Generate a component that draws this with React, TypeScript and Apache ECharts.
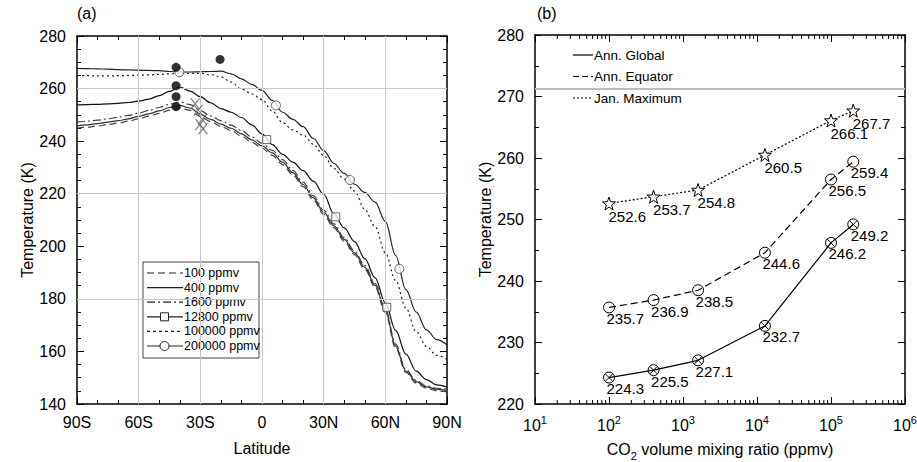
import React, { useEffect, useRef } from 'react';
import * as echarts from 'echarts';

const FONT = "'Liberation Sans', Arial, Helvetica, sans-serif";

// ---------- Panel (a) data ----------
const latitudes = [-90, -85, -80, -75, -70, -65, -60, -55, -50, -45, -40, -35, -30, -25, -20, -15, -10, -5, 0, 5, 10, 15, 20, 25, 30, 35, 40, 45, 50, 55, 60, 65, 70, 75, 80, 85, 90];
const t100 = [244.9, 245.3, 245.8, 246.3, 246.9, 247.6, 248.5, 249.5, 250.6, 251.8, 252.7, 251.7, 249.4, 247.4, 245.6, 244.0, 241.9, 239.6, 237.3, 234.6, 231.1, 227.2, 222.7, 217.6, 212.1, 207.0, 201.9, 196.8, 191.3, 184.5, 174.8, 161.3, 152.0, 148.0, 146.0, 145.0, 144.6];
const t400 = [245.8, 246.2, 246.7, 247.2, 247.8, 248.5, 249.4, 250.4, 251.5, 252.8, 253.6, 252.6, 250.3, 248.3, 246.5, 244.9, 242.8, 240.5, 238.2, 235.5, 232.0, 228.0, 223.5, 218.4, 212.9, 207.8, 202.6, 197.5, 192.0, 185.2, 175.5, 162.0, 152.5, 148.5, 146.5, 145.6, 145.2];
const t1600 = [247.2, 247.6, 248.0, 248.5, 249.1, 249.8, 250.7, 251.7, 252.8, 254.0, 254.9, 253.9, 251.6, 249.6, 247.8, 246.1, 244.0, 241.6, 239.2, 236.5, 233.0, 228.9, 224.4, 219.2, 213.7, 208.5, 203.3, 198.2, 192.7, 185.9, 176.3, 162.8, 153.1, 149.0, 146.9, 146.0, 145.6];
const t12800 = [253.8, 253.9, 254.0, 254.2, 254.4, 254.7, 255.2, 256.0, 257.3, 258.9, 260.6, 259.0, 256.9, 254.6, 252.4, 251.0, 249.0, 246.2, 242.8, 238.7, 235.0, 232.0, 228.8, 224.8, 219.8, 212.3, 207.0, 201.8, 195.3, 188.0, 178.5, 168.0, 159.0, 152.5, 149.3, 147.3, 146.5];
const t100000 = [264.9, 264.9, 264.8, 264.8, 264.9, 265.0, 265.1, 265.2, 265.4, 265.6, 265.8, 265.8, 265.8, 265.3, 264.5, 262.5, 259.8, 258.0, 255.8, 251.5, 247.0, 244.3, 242.3, 238.8, 234.6, 229.6, 225.5, 221.0, 214.0, 207.5, 197.5, 187.0, 176.5, 167.5, 161.9, 158.5, 157.0];
const t200000 = [267.7, 267.6, 267.5, 267.4, 267.2, 267.1, 267.0, 266.9, 266.8, 266.5, 266.3, 266.3, 266.4, 266.5, 266.6, 265.6, 263.7, 261.6, 259.3, 255.5, 251.0, 248.3, 245.5, 241.0, 236.4, 231.5, 227.7, 223.6, 220.5, 216.8, 209.5, 196.5, 183.5, 175.0, 168.2, 164.5, 162.5];

const squareLat = [2.3, 35.9, 60.7];
const squareT = [240.6, 211.2, 176.8];
const circleLat = [-40.2, 6.8, 42.8, 66.8];
const circleT = [266.2, 253.6, 225.2, 191.4];
const obsLat = [-41.8, -41.8, -41.8, -41.8, -20.4];
const obsT = [268.1, 261.1, 256.9, 253.1, 271.1];
const crossLat = [-32.5, -31.0, -29.0, -30.2, -28.7];
const crossT = [254.2, 251.8, 248.3, 246.3, 244.7];

const legendANames = ['100 ppmv', '400 ppmv', '1600 ppmv', '12800 ppmv', '100000 ppmv', '200000 ppmv'];

// ---------- Panel (b) data ----------
const co2 = [100, 400, 1600, 12800, 100000, 200000];
const annGlobal = [224.3, 225.5, 227.1, 232.7, 246.2, 249.2];
const annEquator = [235.7, 236.9, 238.5, 244.6, 256.5, 259.4];
const janMax = [252.6, 253.7, 254.8, 260.5, 266.1, 267.7];
const refLineT = 271.3;
const legendBNames = ['Ann. Global', 'Ann. Equator', 'Jan. Maximum'];
const logMantissas = [2, 3, 4, 5, 6, 7, 8, 9];
const logDecades = [10, 100, 1000, 10000, 100000];

const latFmt = (v: number) => (v < 0 ? `${-v}S` : v > 0 ? `${v}N` : '0');

const pairs = (xs: number[], ys: number[]) => xs.map((x, i) => [x, ys[i]]);

const CIRCLE_X = 'path://M10,5A5,5,0,1,1,0,5A5,5,0,1,1,10,5Z M1.6,1.6L8.4,8.4 M8.4,1.6L1.6,8.4';
const CIRCLE_O = 'path://M10,5A5,5,0,1,1,0,5A5,5,0,1,1,10,5Z';
const STAR = 'path://M5,0L6.2,3.5L10,3.6L7,5.9L8.1,9.6L5,7.4L1.9,9.6L3,5.9L0,3.6L3.8,3.5Z';
const XMARK = 'path://M0,0L10,12M10,0L0,12';

const txt = { fontFamily: FONT, color: '#000' };
const axLine = { show: true, onZero: false, lineStyle: { color: '#000', width: 1.5 } };
const tick = { show: true, inside: true, length: 7, lineStyle: { color: '#000', width: 1 } };
const minor = (n: number) => ({ show: true, splitNumber: n, length: 4, lineStyle: { color: '#000', width: 1 } });

function buildOption() {
  const lineA = (name: string, data: number[], dash: any, color: string, z = 3) => ({
    name,
    type: 'line',
    xAxisIndex: 0,
    yAxisIndex: 0,
    data: pairs(latitudes, data),
    showSymbol: false,
    symbol: 'none',
    smooth: 0.35,
    smoothMonotone: 'x',
    lineStyle: { color, width: 1.2, type: dash },
    z,
  });

  const minorTickData: number[][] = [];
  logDecades.forEach((d) => logMantissas.forEach((m) => minorTickData.push([m * d, 250])));

  const lineB = (name: string, data: number[], dash: any, symbol: string, size: number, fill: string) => ({
    name,
    type: 'line',
    xAxisIndex: 2,
    yAxisIndex: 2,
    data: pairs(co2, data),
    symbol,
    symbolSize: size,
    showSymbol: true,
    lineStyle: { color: '#000', width: 1.2, type: dash },
    itemStyle: { color: fill, borderColor: '#000', borderWidth: 1 },
    label: {
      show: true,
      position: [size / 2, size / 2 + 6],
      align: 'left',
      verticalAlign: 'top',
      fontSize: 15,
      ...txt,
      formatter: (p: any) => p.value[1].toFixed(1),
    },
    labelLayout: { hideOverlap: false },
    z: 4,
  });

  const legendAStyles = [
    { dash: [7, 4], marker: '' },
    { dash: null, marker: '' },
    { dash: [8, 3, 2, 3], marker: '' },
    { dash: null, marker: 'rect' },
    { dash: [3, 3], marker: '' },
    { dash: null, marker: 'circle' },
  ];
  const legendAChildren: any[] = [
    { type: 'rect', shape: { x: 0, y: 0, width: 116, height: 96 }, style: { fill: '#fff', stroke: '#444', lineWidth: 1 } },
  ];
  legendANames.forEach((n, i) => {
    const y = 11 + i * 14.6;
    const st = legendAStyles[i];
    legendAChildren.push({
      type: 'line',
      shape: { x1: 4, y1: y, x2: 40, y2: y },
      style: { stroke: '#222', lineWidth: 1.2, lineDash: st.dash || undefined },
    });
    if (st.marker === 'rect') {
      legendAChildren.push({ type: 'rect', shape: { x: 17.5, y: y - 4, width: 8, height: 8 }, style: { fill: '#fff', stroke: '#222', lineWidth: 1 } });
    } else if (st.marker === 'circle') {
      legendAChildren.push({ type: 'circle', shape: { cx: 21.5, cy: y, r: 4.5 }, style: { fill: '#fff', stroke: '#222', lineWidth: 1 } });
    }
    legendAChildren.push({
      type: 'text',
      style: { text: n, x: 41, y, verticalAlign: 'middle', align: 'left', fontSize: 12.5, fontFamily: FONT, fill: '#000' },
    });
  });

  const legendBDash = [null, [6, 3], [2, 2]];
  const legendBChildren: any[] = [];
  legendBNames.forEach((n, i) => {
    const y = i * 21.5;
    legendBChildren.push({
      type: 'line',
      shape: { x1: 0, y1: y, x2: 20, y2: y },
      style: { stroke: '#000', lineWidth: 1.2, lineDash: legendBDash[i] || undefined },
    });
    legendBChildren.push({
      type: 'text',
      style: { text: n, x: 21, y, verticalAlign: 'middle', align: 'left', fontSize: 13.5, fontFamily: FONT, fill: '#000' },
    });
  });

  return {
    animation: false,
    backgroundColor: '#fff',
    grid: [
      { left: 77, top: 36, width: 370, height: 368, outerBoundsMode: 'none', containLabel: false },
      { left: 535, top: 35, width: 370, height: 369, outerBoundsMode: 'none', containLabel: false },
    ],
    xAxis: [
      {
        gridIndex: 0, type: 'value', min: -90, max: 90, interval: 30, position: 'bottom',
        axisLine: axLine, axisTick: tick, minorTick: minor(3), splitLine: { show: false },
        axisLabel: { formatter: latFmt, fontSize: 16, margin: 10, ...txt, showMinLabel: true, showMaxLabel: true },
        name: 'Latitude', nameLocation: 'middle', nameGap: 36, nameTextStyle: { fontSize: 16, ...txt },
      },
      {
        gridIndex: 0, type: 'value', min: -90, max: 90, interval: 30, position: 'top',
        axisLine: axLine, axisTick: tick, minorTick: minor(3), splitLine: { show: false }, axisLabel: { show: false },
      },
      {
        gridIndex: 1, type: 'log', logBase: 10, min: 10, max: 1000000, splitNumber: 5, position: 'bottom',
        axisLine: axLine, axisTick: tick, splitLine: { show: false },
        axisLabel: {
          margin: 10, showMinLabel: true, showMaxLabel: true, ...txt,
          formatter: (v: number) => `{b|10}{s|${Math.round(Math.log10(v))}}`,
          rich: {
            b: { fontSize: 16, fontFamily: FONT, color: '#000', verticalAlign: 'bottom' },
            s: { fontSize: 11, fontFamily: FONT, color: '#000', verticalAlign: 'bottom', padding: [0, 0, 8, 0] },
          },
        },
        name: '{n|CO}{sub|2}{n| volume mixing ratio (ppmv)}', nameLocation: 'middle', nameGap: 37,
        nameTextStyle: {
          ...txt, fontSize: 16,
          rich: {
            n: { fontSize: 16, fontFamily: FONT, color: '#000', verticalAlign: 'top' },
            sub: { fontSize: 11, fontFamily: FONT, color: '#000', verticalAlign: 'top', padding: [9, 0, 0, 0] },
          },
        },
      },
      {
        gridIndex: 1, type: 'log', logBase: 10, min: 10, max: 1000000, splitNumber: 5, position: 'top',
        axisLine: axLine, axisTick: tick, splitLine: { show: false }, axisLabel: { show: false },
      },
    ],
    yAxis: [
      {
        gridIndex: 0, type: 'value', min: 140, max: 280, interval: 20, position: 'left',
        axisLine: axLine, axisTick: tick, minorTick: minor(4), splitLine: { show: false },
        axisLabel: { fontSize: 16, margin: 11, ...txt, showMinLabel: true, showMaxLabel: true },
        name: 'Temperature (K)', nameLocation: 'middle', nameGap: 40, nameTextStyle: { fontSize: 16, ...txt },
      },
      {
        gridIndex: 0, type: 'value', min: 140, max: 280, interval: 20, position: 'right',
        axisLine: axLine, axisTick: tick, minorTick: minor(4), splitLine: { show: false }, axisLabel: { show: false },
      },
      {
        gridIndex: 1, type: 'value', min: 220, max: 280, interval: 10, position: 'left',
        axisLine: axLine, axisTick: tick, minorTick: minor(2), splitLine: { show: false },
        axisLabel: { fontSize: 16, margin: 11, ...txt, showMinLabel: true, showMaxLabel: true },
        name: 'Temperature (K)', nameLocation: 'middle', nameGap: 30, nameTextStyle: { fontSize: 16, ...txt },
      },
      {
        gridIndex: 1, type: 'value', min: 220, max: 280, interval: 10, position: 'right',
        axisLine: axLine, axisTick: tick, minorTick: minor(2), splitLine: { show: false }, axisLabel: { show: false },
      },
    ],
    series: [
      {
        name: 'gridA', type: 'line', xAxisIndex: 0, yAxisIndex: 0, data: [], z: 1,
        markLine: {
          silent: true, symbol: 'none', label: { show: false },
          lineStyle: { color: '#c8c8c8', width: 1, type: 'solid' },
          data: [{ xAxis: -60 }, { xAxis: -30 }, { xAxis: 0 }, { xAxis: 30 }, { xAxis: 60 }, { yAxis: 180 }, { yAxis: 220 }, { yAxis: 260 }],
        },
      },
      lineA('100 ppmv', t100, [7, 4], '#444'),
      lineA('400 ppmv', t400, 'solid', '#333'),
      lineA('1600 ppmv', t1600, [8, 3, 2, 3], '#444'),
      lineA('12800 ppmv', t12800, 'solid', '#111'),
      lineA('100000 ppmv', t100000, [2, 3], '#222'),
      lineA('200000 ppmv', t200000, 'solid', '#222'),
      {
        name: 'sq', type: 'scatter', xAxisIndex: 0, yAxisIndex: 0, data: pairs(squareLat, squareT),
        symbol: 'rect', symbolSize: 8, itemStyle: { color: '#fff', borderColor: '#444', borderWidth: 1 }, z: 5,
      },
      {
        name: 'ci', type: 'scatter', xAxisIndex: 0, yAxisIndex: 0, data: pairs(circleLat, circleT),
        symbol: 'circle', symbolSize: 9, itemStyle: { color: '#fff', borderColor: '#444', borderWidth: 1 }, z: 5,
      },
      {
        name: 'cross', type: 'scatter', xAxisIndex: 0, yAxisIndex: 0, data: pairs(crossLat, crossT),
        symbol: XMARK, symbolSize: [9, 11], itemStyle: { color: 'none', borderColor: '#666', borderWidth: 1.2 }, z: 5,
      },
      {
        name: 'obs', type: 'scatter', xAxisIndex: 0, yAxisIndex: 0, data: pairs(obsLat, obsT),
        symbol: 'circle', symbolSize: 9, itemStyle: { color: '#000' }, z: 6,
      },
      {
        name: 'minorLog', type: 'custom', xAxisIndex: 2, yAxisIndex: 2, data: minorTickData, silent: true, z: 2,
        encode: { x: 0, y: 1 },
        renderItem: (_p: any, api: any) => {
          const v = api.value(0);
          const b = api.coord([v, 220]);
          const t = api.coord([v, 280]);
          return {
            type: 'group',
            children: [
              { type: 'line', shape: { x1: b[0], y1: b[1], x2: b[0], y2: b[1] - 4 }, style: { stroke: '#000', lineWidth: 1 } },
              { type: 'line', shape: { x1: t[0], y1: t[1], x2: t[0], y2: t[1] + 4 }, style: { stroke: '#000', lineWidth: 1 } },
            ],
          };
        },
      },
      {
        ...lineB('Ann. Global', annGlobal, 'solid', CIRCLE_X, 11, 'none'),
        markLine: {
          silent: true, symbol: 'none', label: { show: false },
          lineStyle: { color: '#bdbdbd', width: 2, type: 'solid' },
          data: [{ yAxis: refLineT }],
        },
      },
      lineB('Ann. Equator', annEquator, [7, 4], CIRCLE_O, 11, 'none'),
      lineB('Jan. Maximum', janMax, [2, 2], STAR, 13, '#fff'),
    ],
    graphic: [
      { type: 'text', left: 77, top: 5, style: { text: '(a)', fontSize: 16, fontFamily: FONT, fill: '#000' } },
      { type: 'text', left: 537, top: 5, style: { text: '(b)', fontSize: 16, fontFamily: FONT, fill: '#000' } },
      { type: 'group', x: 143, y: 262, children: legendAChildren, z: 10 },
      { type: 'group', x: 573, y: 55, children: legendBChildren, z: 10 },
    ],
  };
}

export default function App() {
  const ref = useRef<HTMLDivElement>(null);
  useEffect(() => {
    if (!ref.current) return;
    const chart = echarts.init(ref.current, null, { renderer: 'svg' });
    chart.setOption(buildOption() as any);
    return () => chart.dispose();
  }, []);
  return (
    <div
      ref={ref}
      style={{ position: 'fixed', left: 0, top: 0, width: 917, height: 462, background: '#fff' }}
    />
  );
}
